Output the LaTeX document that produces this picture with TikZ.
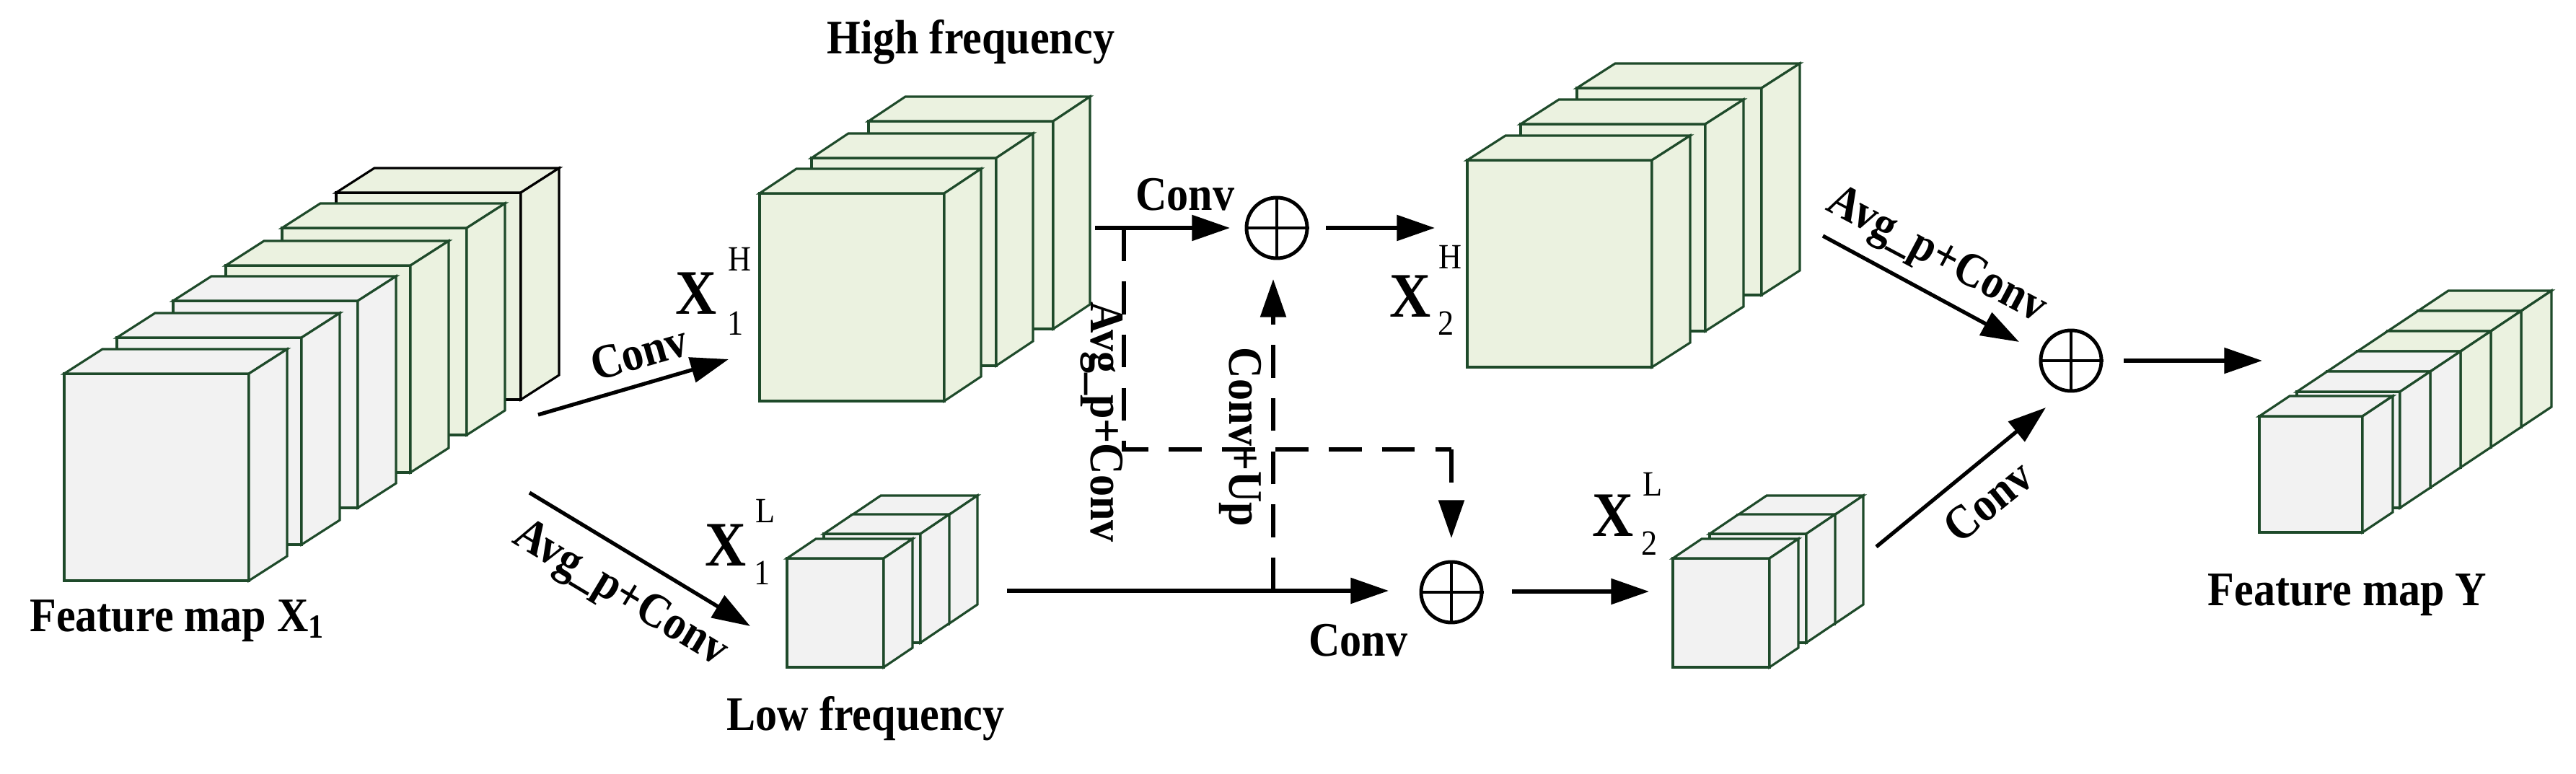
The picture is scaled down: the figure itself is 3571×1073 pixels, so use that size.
\documentclass[tikz,border=0pt]{standalone}
\usepackage{fontspec}
\setmainfont{Liberation Serif}[FakeStretch=0.9]
\usetikzlibrary{arrows.meta}
\definecolor{edge}{HTML}{1E4A2A}
\definecolor{gface}{HTML}{F2F2F2}
\definecolor{lgreen}{HTML}{EBF2E0}
\newcommand\myslab[8][edge]{%
  \filldraw[draw=#1,line width=0.9pt,line join=miter,fill=#8] (#2,#3) rectangle ({#2+#4},{#3+#5});
  \filldraw[draw=#1,line width=0.9pt,fill=#8] (#2,#3) -- ++(#6,#7) -- ++(#4,0) -- ({#2+#4},#3) -- cycle;
  \filldraw[draw=#1,line width=0.9pt,fill=#8] ({#2+#4},#3) -- ++(#6,#7) -- ++(0,#5) -- ({#2+#4},{#3+#5}) -- cycle;}
\begin{document}
\begin{tikzpicture}[x=0.01cm,y=-0.01cm,
  lab/.style={font=\fontsize{19}{19}\selectfont\bfseries,inner sep=0pt},
  bigx/.style={font=\fontsize{25}{25}\selectfont\bfseries,inner sep=0pt},
  scr/.style={font=\fontsize{14}{14}\selectfont,inner sep=0pt},
  arr/.style={line width=1.5pt,-{Triangle[length=15pt,width=10pt]}},
  dsh/.style={line width=1.5pt,dash pattern=on 13pt off 8pt},
  opl/.style={circle,draw,line width=1.4pt,minimum size=0.84cm,inner sep=0pt}]
\useasboundingbox (0,0) rectangle (3571,1073);
% Feature map X1
\myslab[black]{466}{267}{256}{287}{53}{-34}{lgreen}
\myslab{391}{316}{256}{287}{53}{-34}{lgreen}
\myslab{313}{368}{256}{287}{53}{-34}{lgreen}
\myslab{240}{417}{256}{287}{53}{-34}{gface}
\myslab{162}{468}{256}{287}{53}{-34}{gface}
\myslab{89}{518}{256}{287}{53}{-34}{gface}
\node[lab,anchor=base] (fx) at (246,875) {Feature map X\textsubscript{1}};
% High frequency stack
\myslab{1204}{168}{256}{288}{51}{-34}{lgreen}
\myslab{1125}{219}{256}{288}{51}{-34}{lgreen}
\myslab{1053}{268}{256}{288}{51}{-34}{lgreen}
\node[lab] (hf) at (1346,58) {High frequency};
\node[bigx] (x1h) at (965,407) {X};
\node[scr] (x1hs) at (1025,359) {H};
\node[scr] (x1hb) at (1020,448) {1};
% Low frequency stack
\myslab{1181}{714}{134}{151}{40}{-27}{gface}
\myslab{1142}{740}{134}{151}{40}{-27}{gface}
\myslab{1091}{774}{134}{151}{40}{-27}{gface}
\node[lab] (lf) at (1200,996) {Low frequency};
\node[bigx] (x1l) at (1006,756) {X};
\node[scr] (x1ls) at (1061,708) {L};
\node[scr] (x1lb) at (1057,794) {1};
% X2H stack
\myslab{2186}{122}{256}{287}{53}{-34}{lgreen}
\myslab{2108}{172}{256}{287}{53}{-34}{lgreen}
\myslab{2034}{222}{256}{287}{53}{-34}{lgreen}
\node[bigx] (x2h) at (1955,411) {X};
\node[scr] (x2hs) at (2010,356) {H};
\node[scr] (x2hb) at (2005,448) {2};
% X2L stack
\myslab{2409}{714}{134}{151}{40}{-27}{gface}
\myslab{2370}{740}{134}{151}{40}{-27}{gface}
\myslab{2319}{774}{134}{151}{40}{-27}{gface}
\node[bigx] (x2l) at (2236,715) {X};
\node[scr] (x2ls) at (2291,671) {L};
\node[scr] (x2lb) at (2287,753) {2};
% Feature map Y
\myslab{3352}{431}{143}{161}{42}{-28}{lgreen}
\myslab{3310}{459}{143}{161}{42}{-28}{lgreen}
\myslab{3268}{487}{143}{161}{42}{-28}{lgreen}
\myslab{3226}{515}{143}{161}{42}{-28}{gface}
\myslab{3184}{543}{143}{161}{42}{-28}{gface}
\myslab{3132}{577}{143}{161}{42}{-28}{gface}
\node[lab] (fy) at (3254,825) {Feature map Y};
% oplus nodes
\node[opl] (o1) at (1770,316) {};
\node[opl] (o2) at (2012,821) {};
\node[opl] (o3) at (2871,500) {};
\foreach \o in {o1,o2,o3}{\draw[line width=1.4pt] (\o.north) -- (\o.south) (\o.west) -- (\o.east);}
% coordinates
\coordinate (a1s) at (746,575); \coordinate (a1e) at (1010,498);
\coordinate (a2s) at (734,683); \coordinate (a2e) at (1040,868);
\coordinate (t1s) at (1518,316); \coordinate (t1e) at (1705,316);
\coordinate (t2s) at (1838,316); \coordinate (t2e) at (1989,316);
\coordinate (b1s) at (1396,819); \coordinate (b1e) at (1925,819);
\coordinate (dtop) at (1558,316); \coordinate (dcor) at (1558,623);
\coordinate (dcor2) at (2012,623); \coordinate (dend) at (2012,746);
\coordinate (ubot) at (1765,819); \coordinate (uend) at (1765,387);
\coordinate (b2s) at (2096,820); \coordinate (b2e) at (2286,820);
\coordinate (c1s) at (2527,327); \coordinate (c1e) at (2799,474);
\coordinate (c2s) at (2601,758); \coordinate (c2e) at (2836,565);
\coordinate (ys) at (2944,500); \coordinate (ye) at (3136,500);
% connectors
\draw[arr] (a1s) -- (a1e);
\draw[arr] (a2s) -- (a2e);
\draw[arr] (t1s) -- (t1e);
\draw[arr] (t2s) -- (t2e);
\draw[arr] (b1s) -- (b1e);
\draw[arr] (b2s) -- (b2e);
\draw[arr] (c1s) -- (c1e);
\draw[arr] (c2s) -- (c2e);
\draw[arr] (ys) -- (ye);
\draw[dsh] (dtop) -- (dcor) -- (dcor2);
\draw[dsh,-{Triangle[length=15pt,width=10pt]}] (dcor2) -- (dend);
\draw[dsh,-{Triangle[length=15pt,width=10pt]}] (ubot) -- (uend);
% labels
\node[lab,rotate=16] (l1) at (886,489) {Conv};
\node[lab,rotate=-31] (l2) at (859,825) {Avg\_p+Conv};
\node[lab] (l3) at (1643,270) {Conv};
\node[lab] (l4) at (1883,888) {Conv};
\node[lab,rotate=-90] (l5) at (1527,585) {Avg\_p+Conv};
\node[lab,rotate=-90] (l6) at (1719,606) {Conv+Up};
\node[lab,rotate=-28] (l7) at (2684,356) {Avg\_p+Conv};
\node[lab,rotate=39] (l8) at (2756,695) {Conv};
\end{tikzpicture}
\end{document}
